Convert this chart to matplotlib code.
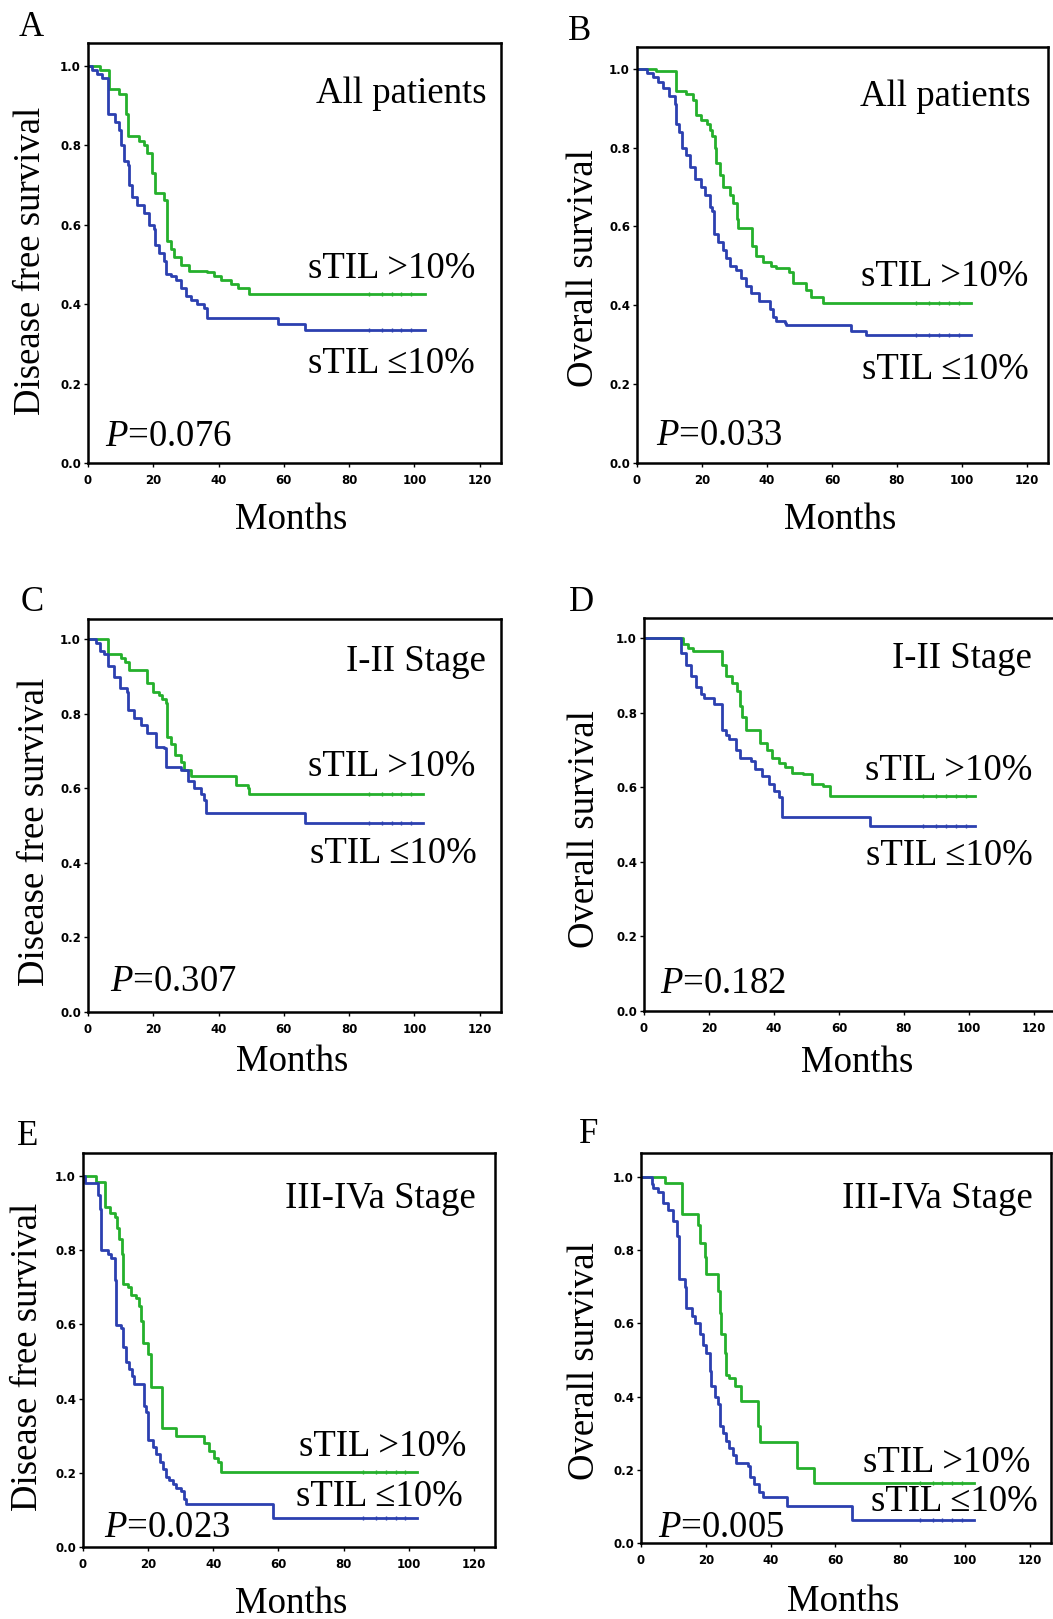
import matplotlib
matplotlib.use("Agg")
import matplotlib.pyplot as plt

plt.rcParams['font.family'] = ['Liberation Serif', 'DejaVu Serif']
plt.rcParams['mathtext.fontset'] = 'custom'
plt.rcParams['mathtext.rm'] = 'Liberation Serif'
plt.rcParams['mathtext.it'] = 'Liberation Serif:italic'

GREEN = '#25b02c'
BLUE = '#2c40b0'

# ---- data: step times (months) and survival after each step ----
# A: DFS, all patients
a_hi_t = [0, 3.8, 6.4, 9.4, 11.5, 12.3, 15.6, 17, 18.2, 19.7, 20.4, 23.3, 24.3, 25.3, 26.4, 28.4, 31, 36.6, 38.7, 40.7, 43.8, 45.8, 49.4, 103.3]
a_hi_s = [1.0, 0.99, 0.943, 0.93, 0.88, 0.824, 0.81, 0.80, 0.78, 0.73, 0.679, 0.662, 0.56, 0.54, 0.52, 0.50, 0.484, 0.48, 0.47, 0.46, 0.45, 0.44, 0.425, 0.425]
a_lo_t = [0, 1.2, 2.8, 4.3, 6, 8.4, 9.4, 10, 11, 12.2, 12.5, 13.5, 15, 17, 18.7, 20.2, 20.6, 21.7, 23.3, 24, 25.3, 26.9, 28.4, 30, 31.5, 33.5, 35.6, 36.6, 58.2, 66.4, 103.3]
a_lo_s = [1.0, 0.99, 0.98, 0.97, 0.88, 0.86, 0.84, 0.80, 0.76, 0.75, 0.70, 0.67, 0.65, 0.63, 0.60, 0.59, 0.55, 0.53, 0.51, 0.475, 0.47, 0.46, 0.44, 0.42, 0.41, 0.40, 0.39, 0.365, 0.35, 0.335, 0.335]

# B: OS, all patients
b_hi_t = [0, 6, 11.9, 15.2, 17.3, 18.3, 19.8, 21.4, 22.4, 23.2, 23.9, 24.4, 25.4, 26.5, 28.5, 29.5, 30.8, 31.1, 35.5, 36.7, 38.8, 41.3, 42.8, 46.9, 48, 52, 53.6, 57.2, 102.7]
b_hi_s = [1.0, 0.995, 0.943, 0.935, 0.92, 0.882, 0.87, 0.86, 0.845, 0.83, 0.80, 0.76, 0.73, 0.70, 0.68, 0.66, 0.62, 0.595, 0.55, 0.525, 0.51, 0.50, 0.495, 0.485, 0.456, 0.44, 0.42, 0.405, 0.405]
b_lo_t = [0, 3, 5, 6.5, 8, 10, 11.7, 12, 13, 13.7, 15.2, 16.3, 17.8, 19.8, 20.9, 22.4, 23.2, 23.7, 25, 26.5, 27.5, 28.5, 30.6, 32.1, 33.6, 35.2, 37.7, 40.8, 41.8, 42.8, 45.4, 46, 65.8, 70.4, 102.7]
b_lo_s = [1.0, 0.99, 0.98, 0.965, 0.95, 0.93, 0.91, 0.86, 0.84, 0.80, 0.78, 0.75, 0.72, 0.70, 0.68, 0.65, 0.64, 0.582, 0.56, 0.54, 0.52, 0.50, 0.49, 0.47, 0.45, 0.43, 0.41, 0.39, 0.37, 0.36, 0.355, 0.35, 0.335, 0.325, 0.325]

# C: DFS, stage I-II
c_hi_t = [0, 6, 10, 11.2, 12.5, 18, 20, 21.7, 22.8, 23.8, 24.3, 25.3, 26.8, 28.4, 29.4, 31.4, 45.3, 48.9, 49.4, 102.6]
c_hi_s = [1.0, 0.962, 0.95, 0.94, 0.918, 0.882, 0.86, 0.85, 0.84, 0.83, 0.739, 0.72, 0.69, 0.67, 0.65, 0.633, 0.61, 0.60, 0.586, 0.586]
c_lo_t = [0, 2.3, 3.8, 4.8, 6, 7.9, 9.9, 12, 12.3, 14, 16.1, 18.2, 20.7, 23.3, 24, 28.4, 30.5, 32.5, 34.5, 35.6, 36.1, 66.4, 102.6]
c_lo_s = [1.0, 0.99, 0.97, 0.96, 0.93, 0.90, 0.87, 0.86, 0.812, 0.79, 0.77, 0.75, 0.712, 0.71, 0.658, 0.65, 0.62, 0.60, 0.585, 0.57, 0.533, 0.508, 0.508]

# D: OS, stage I-II
d_hi_t = [0, 11.9, 13.5, 15, 23.9, 25.2, 27.2, 28.7, 29.4, 30.3, 31.3, 35.8, 37.9, 39.4, 41.4, 43.5, 45.5, 49, 51.6, 55.2, 57.2, 102]
d_hi_s = [1.0, 0.985, 0.975, 0.967, 0.93, 0.90, 0.88, 0.86, 0.82, 0.79, 0.753, 0.72, 0.70, 0.68, 0.665, 0.655, 0.64, 0.635, 0.61, 0.605, 0.577, 0.577]
d_lo_t = [0, 11.4, 12.9, 14.5, 16, 17.5, 18.5, 21.6, 23.9, 25.2, 26.2, 28.2, 29.7, 32.8, 34.3, 36.4, 38.4, 39.9, 41.4, 42.5, 69.5, 102]
d_lo_s = [1.0, 0.96, 0.93, 0.90, 0.87, 0.85, 0.84, 0.825, 0.754, 0.74, 0.73, 0.70, 0.68, 0.67, 0.65, 0.63, 0.61, 0.59, 0.575, 0.52, 0.496, 0.496]

# E: DFS, stage III-IVa
e_hi_t = [0, 4.1, 6.9, 8.2, 9.7, 10.5, 11.2, 12, 12.4, 13.8, 14.8, 16.3, 17.1, 17.9, 18.4, 19.9, 20.9, 24.3, 28.6, 37, 38.8, 40.3, 41.5, 42.3, 102.6]
e_hi_s = [1.0, 0.985, 0.917, 0.90, 0.89, 0.86, 0.83, 0.79, 0.709, 0.70, 0.68, 0.67, 0.65, 0.61, 0.55, 0.52, 0.432, 0.321, 0.298, 0.28, 0.26, 0.24, 0.23, 0.202, 0.202]
e_lo_t = [0, 0.5, 4.6, 5.1, 5.6, 7.7, 8.7, 9.7, 10.2, 11.7, 12.4, 13.3, 14.2, 15.1, 15.8, 18.6, 19.4, 19.9, 21.4, 22.4, 23.5, 24.5, 25.5, 26.5, 27.6, 28.6, 30.1, 31.1, 31.6, 58.4, 102.6]
e_lo_s = [1.0, 0.98, 0.95, 0.91, 0.80, 0.79, 0.78, 0.72, 0.598, 0.59, 0.54, 0.50, 0.48, 0.46, 0.44, 0.38, 0.365, 0.288, 0.27, 0.25, 0.23, 0.21, 0.19, 0.18, 0.17, 0.16, 0.15, 0.13, 0.116, 0.078, 0.078]

# F: OS, stage III-IVa
f_hi_t = [0, 7.4, 12.5, 17.6, 18.1, 19.7, 20.2, 23.7, 24.3, 24.8, 25.8, 26.3, 27.3, 28.9, 30.9, 36.2, 36.7, 48.1, 53.4, 102.6]
f_hi_s = [1.0, 0.985, 0.899, 0.87, 0.82, 0.782, 0.735, 0.69, 0.63, 0.57, 0.52, 0.46, 0.45, 0.43, 0.389, 0.32, 0.276, 0.206, 0.164, 0.164]
f_lo_t = [0, 3.3, 3.8, 5.3, 6.8, 8.4, 9.9, 11, 11.8, 13.5, 14, 15.6, 16.6, 18.1, 19.1, 20.2, 21.2, 21.7, 22.7, 23.7, 24.3, 25.3, 26.3, 27.3, 28.3, 29.4, 33, 33.5, 35, 36.5, 37.6, 45.2, 65.2, 102.6]
f_lo_s = [1.0, 0.98, 0.97, 0.96, 0.93, 0.91, 0.88, 0.84, 0.721, 0.70, 0.641, 0.62, 0.60, 0.57, 0.54, 0.52, 0.47, 0.43, 0.40, 0.38, 0.32, 0.30, 0.28, 0.26, 0.24, 0.22, 0.21, 0.18, 0.16, 0.14, 0.125, 0.10, 0.064, 0.064]

panel_letters = ['A', 'B', 'C', 'D', 'E', 'F']
ylabels = ['Disease free survival', 'Overall survival'] * 3
groups = ['All patients', 'All patients', 'I-II Stage', 'I-II Stage', 'III-IVa Stage', 'III-IVa Stage']
pvalues = ['0.076', '0.033', '0.307', '0.182', '0.023', '0.005']
curves = [(a_hi_t, a_hi_s, a_lo_t, a_lo_s), (b_hi_t, b_hi_s, b_lo_t, b_lo_s),
          (c_hi_t, c_hi_s, c_lo_t, c_lo_s), (d_hi_t, d_hi_s, d_lo_t, d_lo_s),
          (e_hi_t, e_hi_s, e_lo_t, e_lo_s), (f_hi_t, f_hi_s, f_lo_t, f_lo_s)]
censor_times = [86, 90, 93, 96, 99]

# layout in pixels: left, right, top, bottom
W, H = 1053, 1619
boxes = [(88, 501, 43, 463), (637, 1048, 47, 463),
         (88, 501, 619, 1012), (644, 1055, 618, 1011),
         (83, 495, 1153, 1547), (641, 1051, 1153, 1543)]
ytops = [1.058, 1.055, 1.055, 1.055, 1.062, 1.066]
# label positions (data coords)
hi_pos = [(118.5, 0.49), (120.5, 0.473), (118.5, 0.658), (119.5, 0.645), (117.6, 0.27), (120, 0.22)]
lo_pos = [(118.5, 0.25), (120.5, 0.236), (119, 0.425), (119.5, 0.418), (116.7, 0.136), (122.5, 0.112)]
grp_pos = [(122, 0.93), (121, 0.93), (122, 0.94), (119.5, 0.945), (120.7, 0.94), (121, 0.94)]
p_pos = [(5.2, 0.067), (6, 0.068), (6.8, 0.08), (4.8, 0.074), (6.6, 0.053), (5.2, 0.042)]
# figure pixel positions
months_pos = [(291, 520), (840, 520), (292, 1062), (857, 1063), (291, 1604), (843, 1602)]
letter_pos = [(31, 28), (580, 32), (32, 602), (581, 602), (28, 1136), (589, 1134)]
ylab_pos = [(31, 261), (584, 268), (35, 832), (585, 829), (28, 1357), (585, 1361)]

fig = plt.figure(figsize=(W / 100, H / 100), dpi=100)

for i in range(6):
    l, r, t, b = boxes[i]
    ax = fig.add_axes([l / W, (H - b) / H, (r - l) / W, (b - t) / H])
    ht, hs, lt, ls = curves[i]
    ax.step(ht, hs, where='post', color=GREEN, lw=2)
    ax.step(lt, ls, where='post', color=BLUE, lw=2)
    ax.plot(censor_times, [hs[-1]] * len(censor_times), ls='none', marker='|', ms=3, mew=1, color=GREEN)
    ax.plot(censor_times, [ls[-1]] * len(censor_times), ls='none', marker='|', ms=3, mew=1, color=BLUE)
    ax.set_xlim(0, 126.5)
    ax.set_ylim(0, ytops[i])
    ax.set_xticks([0, 20, 40, 60, 80, 100, 120])
    ax.set_yticks([0.0, 0.2, 0.4, 0.6, 0.8, 1.0])
    ax.set_yticklabels(['0.0', '0.2', '0.4', '0.6', '0.8', '1.0'])
    for lab in ax.get_xticklabels() + ax.get_yticklabels():
        lab.set_family('DejaVu Sans')
        lab.set_fontweight('bold')
        lab.set_fontsize(8.5)
    ax.tick_params(axis='y', length=3, width=1, pad=2)
    ax.tick_params(axis='x', length=3, width=1, pad=5)
    for sp in ax.spines.values():
        sp.set_linewidth(1.8)

    ax.text(grp_pos[i][0], grp_pos[i][1], groups[i], ha='right', va='center', fontsize=26.5)
    ax.text(hi_pos[i][0], hi_pos[i][1], 'sTIL >10%', ha='right', va='center', fontsize=26.5)
    ax.text(lo_pos[i][0], lo_pos[i][1], 'sTIL \u226410%', ha='right', va='center', fontsize=26.5)
    ax.text(p_pos[i][0], p_pos[i][1], r'$P$=' + pvalues[i], ha='left', va='center', fontsize=26.5)

    fig.text(ylab_pos[i][0] / W, (H - ylab_pos[i][1]) / H, ylabels[i], rotation=90,
             ha='center', va='center', fontsize=26.5)
    fig.text(months_pos[i][0] / W, (H - months_pos[i][1]) / H, 'Months',
             ha='center', va='center', fontsize=26.5)
    fig.text(letter_pos[i][0] / W, (H - letter_pos[i][1]) / H, panel_letters[i],
             ha='center', va='center', fontsize=25)

plt.savefig('out.png', dpi=100)
